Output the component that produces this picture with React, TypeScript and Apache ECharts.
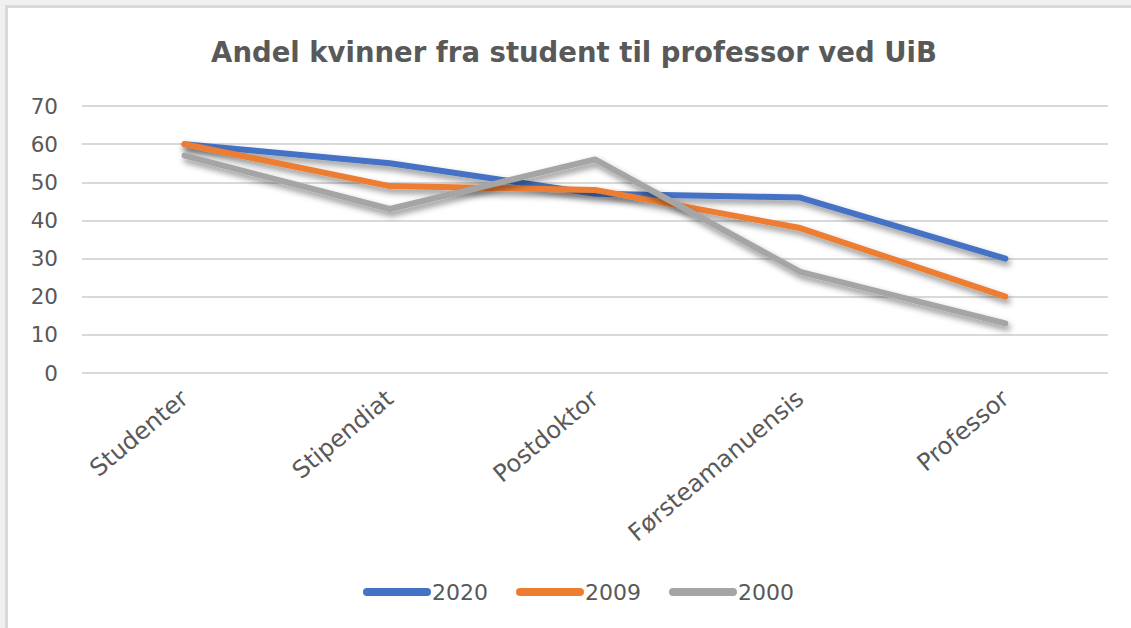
import React, { useEffect, useRef } from "react";
import * as echarts from "echarts";

const categories = ["Studenter", "Stipendiat", "Postdoktor", "Førsteamanuensis", "Professor"];
const seriesNames = ["2020", "2009", "2000"];
const values2020 = [60, 55, 47, 46, 30];
const values2009 = [60, 49, 48, 38, 20];
const values2000 = [57, 43, 56, 26.5, 13];
const colors = ["#4472C4", "#ED7D31", "#A5A5A5"];
const titleText = "Andel kvinner fra student til professor ved UiB";

const FONT = "DejaVu Sans";
const capsule = "path://M4,0 L64,0 A4,4 0 0 1 64,8 L4,8 A4,4 0 0 1 4,0 Z";

export default function App() {
  const ref = useRef<HTMLDivElement>(null);
  useEffect(() => {
    if (!ref.current) return;
    const chart = echarts.init(ref.current, undefined, { renderer: "svg" });
    const allValues = [values2020, values2009, values2000];
    chart.setOption({
      animation: false,
      graphic: [
        {
          type: "text",
          x: 574,
          y: 52,
          style: {
            text: titleText,
            fontFamily: FONT,
            fontSize: 27.5,
            fontWeight: "bold",
            fill: "#595959",
            textAlign: "center",
            textVerticalAlign: "middle",
          },
        },
      ],
      grid: { left: 82, right: 23, top: 106, bottom: 255, containLabel: false },
      legend: {
        left: 358,
        top: 576,
        itemWidth: 70,
        itemHeight: 8,
        itemGap: 28,
        icon: capsule,
        textStyle: { fontFamily: FONT, fontSize: 22, color: "#595959", padding: [0, 0, 0, -5] },
        data: seriesNames,
      },
      xAxis: {
        type: "category",
        data: categories,
        boundaryGap: true,
        axisLine: { show: false },
        axisTick: { show: false },
        axisLabel: {
          rotate: 40,
          margin: 22,
          fontFamily: FONT,
          fontSize: 24,
          color: "#595959",
        },
      },
      yAxis: {
        type: "value",
        min: 0,
        max: 70,
        interval: 10,
        axisLine: { show: false },
        axisTick: { show: false },
        axisLabel: { margin: 24, fontFamily: FONT, fontSize: 21.5, color: "#595959" },
        splitLine: { lineStyle: { color: "#d9d9d9", width: 2 } },
      },
      series: seriesNames.map((name, i) => ({
        name,
        type: "line",
        data: allValues[i],
        symbol: "none",
        color: colors[i],
        lineStyle: {
          width: 6,
          color: colors[i],
          cap: "round",
          join: "round",
          shadowColor: "rgba(0,0,0,0.45)",
          shadowBlur: 6,
          shadowOffsetX: 2,
          shadowOffsetY: 4,
        },
      })),
    });
    return () => chart.dispose();
  }, []);

  return (
    <div style={{ position: "fixed", left: 0, top: 0, width: 1131, height: 628, background: "#f0f0f0" }}>
      <div
        style={{
          position: "absolute",
          left: 5,
          top: 5,
          right: 0,
          bottom: 0,
          background: "#ffffff",
          borderLeft: "3px solid #d9d9d9",
          borderTop: "3px solid #d9d9d9",
        }}
      />
      <div ref={ref} style={{ position: "absolute", left: 0, top: 0, width: 1131, height: 628 }} />
    </div>
  );
}
